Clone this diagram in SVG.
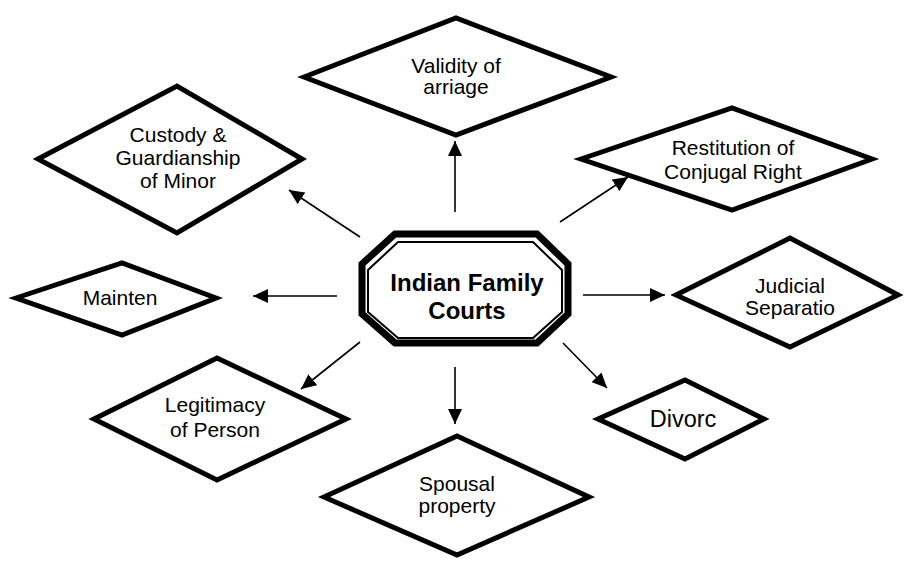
<svg xmlns="http://www.w3.org/2000/svg" width="906" height="561" viewBox="0 0 906 561">
<style>
.d{fill:#fff;stroke:#000;stroke-width:5;stroke-linejoin:miter;stroke-miterlimit:10}
.t{font-family:"Liberation Sans",Arial,sans-serif;font-size:21px;fill:#000;text-anchor:middle}
.c{stroke:#000;stroke-width:1.6;fill:none;marker-end:url(#ah)}
</style>
<defs>
<marker id="ah" markerUnits="userSpaceOnUse" markerWidth="16" markerHeight="14" refX="15" refY="7" orient="auto">
<path d="M0,0 L15,7 L0,14 z" fill="#000"/>
</marker>
</defs>
<rect width="906" height="561" fill="#fff"/>
<g id="connectors">
<line class="c" x1="455" y1="212" x2="455" y2="141"/>
<line class="c" x1="360" y1="237" x2="289" y2="190"/>
<line class="c" x1="560" y1="222" x2="628" y2="177"/>
<line class="c" x1="337" y1="296" x2="253" y2="296"/>
<line class="c" x1="583" y1="295" x2="665" y2="295"/>
<line class="c" x1="360" y1="342" x2="301" y2="389"/>
<line class="c" x1="455" y1="367" x2="455" y2="424"/>
<line class="c" x1="563" y1="343" x2="607" y2="388"/>
</g>
<g id="center">
<polygon points="395,234 537,234 568,264 568,314 537,343 395,343 362,314 362,264" fill="#fff" stroke="#000" stroke-width="7"/>
<polygon points="398,242 533,242 562,270 562,312 533,338 398,338 368,312 368,270" fill="none" stroke="#000" stroke-width="2"/>
<text class="t" x="467" y="291" style="font-weight:bold;font-size:24px">Indian Family</text>
<text class="t" x="467" y="319" style="font-weight:bold;font-size:24px">Courts</text>
</g>
<g id="validity">
<polygon class="d" points="304,77 456,18 611,77 456,135"/>
<text class="t" x="456" y="73">Validity of</text>
<text class="t" x="456" y="94">arriage</text>
</g>
<g id="custody">
<polygon class="d" points="38,159 177,86 302,159 177,233"/>
<text class="t" x="178" y="142">Custody &amp;</text>
<text class="t" x="178" y="165">Guardianship</text>
<text class="t" x="178" y="188">of Minor</text>
</g>
<g id="restitution">
<polygon class="d" points="581,159 732,108 872,159 732,210"/>
<text class="t" x="733" y="155">Restitution of</text>
<text class="t" x="733" y="179">Conjugal Right</text>
</g>
<g id="mainten">
<polygon class="d" points="16,298 122,263 216,298 122,335"/>
<text class="t" x="120" y="305">Mainten</text>
</g>
<g id="judicial">
<polygon class="d" points="676,295 790,238 898,295 790,347"/>
<text class="t" x="790" y="293">Judicial</text>
<text class="t" x="790" y="315">Separatio</text>
</g>
<g id="legitimacy">
<polygon class="d" points="94,419 217,358 346,419 217,480"/>
<text class="t" x="215" y="412">Legitimacy</text>
<text class="t" x="215" y="437">of Person</text>
</g>
<g id="spousal">
<polygon class="d" points="324,497 457,436 589,497 457,555"/>
<text class="t" x="457" y="491">Spousal</text>
<text class="t" x="457" y="513">property</text>
</g>
<g id="divorc">
<polygon class="d" points="598,419 685,380 764,419 685,459"/>
<text class="t" x="683" y="427" style="font-size:23.5px">Divorc</text>
</g>
</svg>
